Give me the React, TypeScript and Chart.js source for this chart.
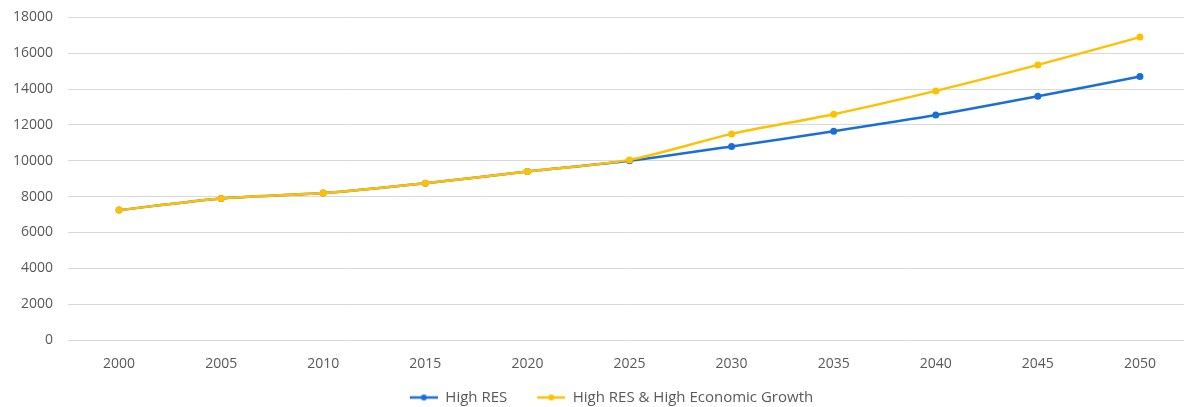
import React, { useEffect, useRef } from "react";
import { Chart, registerables } from "chart.js";

Chart.register(...registerables);

const years = ["2000", "2005", "2010", "2015", "2020", "2025", "2030", "2035", "2040", "2045", "2050"];
const highRes = [7250, 7900, 8200, 8750, 9400, 10000, 10800, 11650, 12550, 13600, 14700];
const highResGrowth = [7250, 7900, 8200, 8750, 9400, 10050, 11500, 12600, 13900, 15350, 16900];

const BLUE = "#1a6fd6";
const YELLOW = "#ffc000";
const TEXT = "#595959";
const FONT = "'Open Sans', sans-serif";

function makeIcon(color: string) {
  const c = document.createElement("canvas");
  c.width = 56;
  c.height = 10;
  const ctx = c.getContext("2d")!;
  ctx.strokeStyle = color;
  ctx.lineWidth = 2.5;
  ctx.beginPath();
  ctx.moveTo(28, 5);
  ctx.lineTo(56, 5);
  ctx.stroke();
  ctx.fillStyle = color;
  ctx.beginPath();
  ctx.arc(42, 5, 3, 0, Math.PI * 2);
  ctx.fill();
  return c;
}

export default function App() {
  const ref = useRef<HTMLCanvasElement>(null);
  useEffect(() => {
    const icons = [makeIcon(BLUE), makeIcon(YELLOW)];
    const chart = new Chart(ref.current!, {
      type: "line",
      data: {
        labels: years,
        datasets: [
          {
            label: "High RES",
            data: highRes,
            order: 2,
            borderColor: BLUE,
            backgroundColor: BLUE,
            borderWidth: 2.5,
            pointRadius: 3.5,
            pointBackgroundColor: BLUE,
            pointBorderWidth: 0,
            tension: 0.25,
          },
          {
            label: "High RES & High Economic Growth",
            data: highResGrowth,
            order: 1,
            borderColor: YELLOW,
            backgroundColor: YELLOW,
            borderWidth: 2.5,
            pointRadius: 3.5,
            pointBackgroundColor: YELLOW,
            pointBorderWidth: 0,
            tension: 0.25,
          },
        ],
      },
      options: {
        animation: false,
        responsive: false,
        maintainAspectRatio: false,
        layout: { padding: { top: 2, right: 0, left: 0, bottom: 0 } },
        plugins: {
          tooltip: { enabled: false },
          legend: {
            position: "bottom",
            labels: {
              color: TEXT,
              font: { family: FONT, size: 15 },
              usePointStyle: true,
              pointStyleWidth: 56,
              boxHeight: 10,
              padding: 2,
              sort: (a: any, b: any) => a.datasetIndex - b.datasetIndex,
              generateLabels: (ch: any) => {
                const items = (Chart.defaults.plugins.legend.labels as any).generateLabels(ch);
                items.forEach((it: any) => {
                  it.pointStyle = icons[it.datasetIndex];
                });
                return items;
              },
            },
          },
        },
        scales: {
          x: {
            offset: true,
            grid: { display: false },
            border: { display: false },
            afterFit: (s: any) => {
              s.height = 48;
            },
            ticks: {
              color: TEXT,
              font: { family: FONT, size: 14 },
              padding: 8,
              maxRotation: 0,
            },
          },
          y: {
            min: 0,
            max: 18000,
            afterFit: (s: any) => {
              s.width = 68;
            },
            grid: { color: "#d9d9d9", lineWidth: 1, drawTicks: false },
            border: { display: false },
            ticks: {
              stepSize: 2000,
              color: TEXT,
              font: { family: FONT, size: 14 },
              padding: 15,
              callback: (v: any) => String(v),
            },
          },
        },
      },
    });
    return () => chart.destroy();
  }, []);
  return (
    <div style={{ position: "fixed", left: 0, top: 0, width: 1184, height: 407, overflow: "hidden", background: "#fff" }}>
      <canvas ref={ref} width={1195} height={421} style={{ display: "block", position: "absolute", left: 0, top: -6 }} />
    </div>
  );
}
